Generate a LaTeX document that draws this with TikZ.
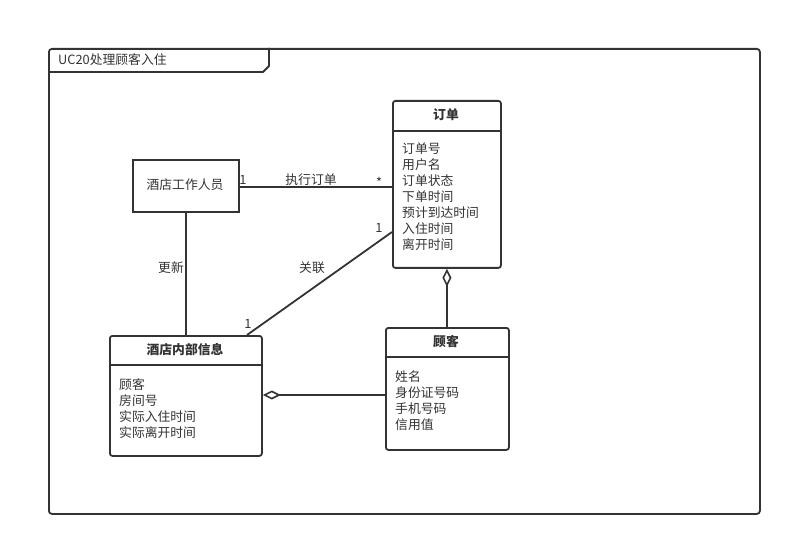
\documentclass[tikz,border=0pt]{standalone}
\usepackage{fontspec}
\setmainfont{Noto Sans CJK SC}
\usetikzlibrary{arrows.meta,calc}
\definecolor{ink}{HTML}{333333}
\tikzset{
  ln/.style={draw=ink, line width=1.8pt},
  classbox/.style={ln, rounded corners=2.5pt, fill=white, anchor=north west, inner sep=0pt},
  plainbox/.style={ln, fill=white, anchor=north west, inner sep=0pt},
  txt/.style={text=ink, inner sep=0pt, font=\fontsize{12.8}{16}\selectfont},
  ttl/.style={txt, font=\fontsize{12.8}{16}\selectfont\bfseries},
  attrs/.style={txt, anchor=north west, align=left},
  agg/.style={ln, -{Diamond[open, length=18pt, width=9pt, line width=1.6pt]}}
}
\begin{document}
\begin{tikzpicture}[x=1pt,y=-1pt]
\useasboundingbox (0,0) rectangle (792,545);
% frame
\node[ln, rounded corners=3pt, anchor=north west, inner sep=0pt, minimum width=711pt, minimum height=465pt] (frame) at (48,48) {};
\draw[ln, line join=round] ($(frame.north west)+(0,24)$) -- ($(frame.north west)+(215,24)$) -- ($(frame.north west)+(221,18)$) -- ($(frame.north west)+(221,0)$);
\node[txt, anchor=west] (ftitle) at (58,60) {UC20处理顾客入住};

% worker
\node[plainbox, minimum width=106pt, minimum height=52pt] (worker) at (132,159) {};
\node[txt] (workert) at (185,185) {酒店工作人员};

% order
\node[classbox, minimum width=108pt, minimum height=167pt] (order) at (392,100) {};
\coordinate (odiv) at (392,131);
\draw[ln] (odiv) -- (odiv -| order.east);
\node[ttl] (ordert) at (446,115) {订单};
\node[attrs] (ordera) at (402,143) {订单号\\用户名\\订单状态\\下单时间\\预计到达时间\\入住时间\\离开时间};

% hotel info
\node[classbox, minimum width=152pt, minimum height=120pt] (hotel) at (109,335) {};
\coordinate (hdiv) at (109,365);
\draw[ln] (hdiv) -- (hdiv -| hotel.east);
\node[ttl] (hotelt) at (185,350) {酒店内部信息};
\node[attrs] (hotela) at (119,378) {顾客\\房间号\\实际入住时间\\实际离开时间};

% customer
\node[classbox, minimum width=123pt, minimum height=122pt] (cust) at (385,327) {};
\coordinate (cdiv) at (385,357);
\draw[ln] (cdiv) -- (cdiv -| cust.east);
\node[ttl] (custt) at (446,342) {顾客};
\node[attrs] (custa) at (395,371) {姓名\\身份证号码\\手机号码\\信用值};

% connectors
\coordinate (w1) at ($(worker.east)+(0,1)$);
\draw[ln] (w1) -- (w1 -| order.west);
\node[txt] (m1) at (243,180) {1};
\node[txt] (lexec) at (311,180) {执行订单};
\node[txt] (mstar) at (379,182) {*};

\draw[ln] (worker.south) -- (hotel.north -| worker.south);
\node[txt] (lupd) at (171,268) {更新};

\coordinate (oa) at (392,232);
\coordinate (ha) at (247,335);
\draw[ln] (oa) -- (ha);
\node[txt] (m2) at (379,228) {1};
\node[txt] (lrel) at (312,268) {关联};
\node[txt] (m3) at (248,324) {1};

\draw[agg] (cust.north -| order.south) -- (order.south);
\coordinate (ca) at (385,395);
\draw[agg] (ca) -- (hotel.east |- 0,395);
\end{tikzpicture}
\end{document}
